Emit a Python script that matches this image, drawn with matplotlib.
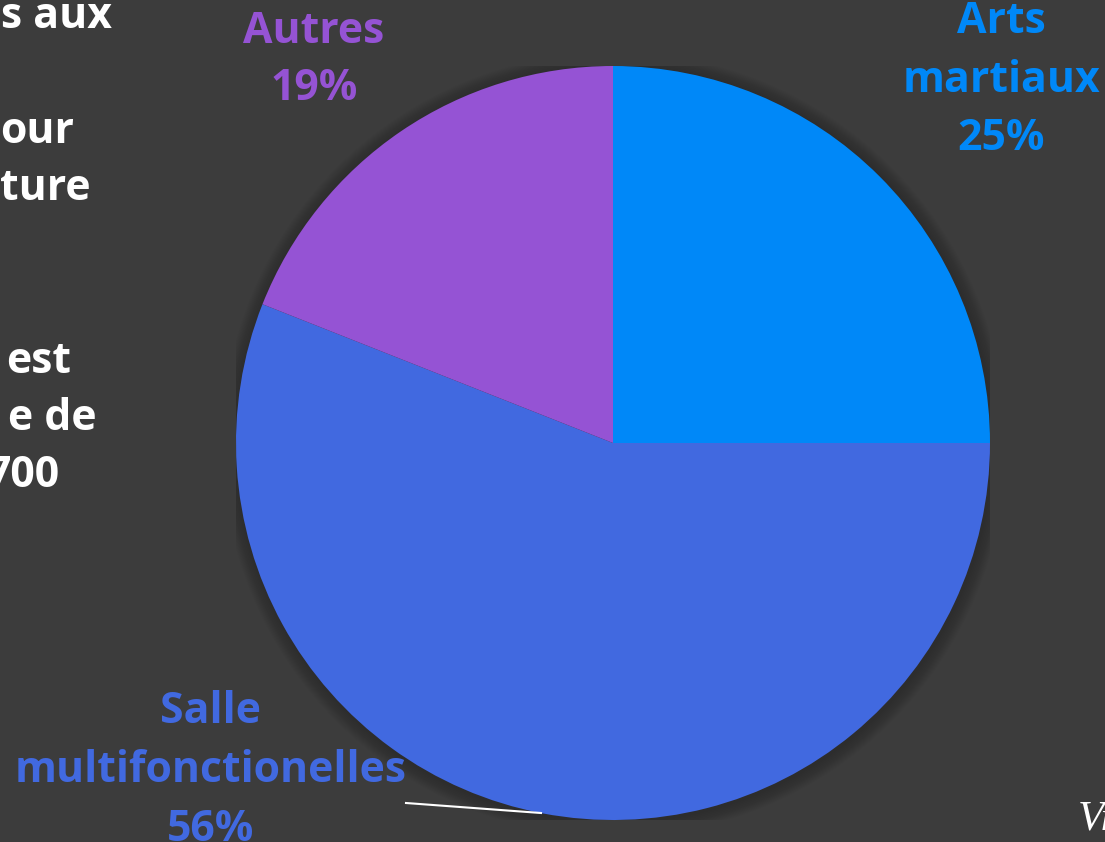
import matplotlib
matplotlib.use("Agg")
import matplotlib.pyplot as plt
from matplotlib.patches import Circle

# données du camembert
categories = ["Arts martiaux", "Salle multifonctionelles", "Autres"]
values = [25, 56, 19]
colors = ["#0088F8", "#4169E0", "#9553D4"]
label_lines = [["Arts", "martiaux", "25%"],
               ["Salle", "multifonctionelles", "56%"],
               ["Autres", "19%"]]

# fragments de texte coupés à gauche
side_text = ["s aux", "our", "ture", "est", "e de", "700"]

bg = "#3C3C3C"
W, H = 1105, 842

fig = plt.figure(figsize=(W / 100, H / 100), dpi=100, facecolor=bg)

# pie : centre (613, 443) px, rayon 377 px
cx, cy, r = 613, 443, 377
ax = fig.add_axes([(cx - r) / W, (H - cy - r) / H, 2 * r / W, 2 * r / H])
ax.set_facecolor(bg)

# ombre douce
for k in range(10):
    ax.add_patch(Circle((0.003, -0.004), 1.0 + 0.004 * (10 - k), color="black",
                        alpha=0.02, lw=0, zorder=0))

ax.pie(values, colors=colors, startangle=90, counterclock=False,
       wedgeprops=dict(linewidth=0), radius=1.0)
ax.set_xlim(-1, 1)
ax.set_ylim(-1, 1)
ax.set_aspect("equal")
ax.axis("off")

font = "Open Sans"
fs = 30.8


def px(x, y):
    return x / W, 1 - y / H


# étiquettes : (centre x, première ligne baseline, pas)
label_pos = [(1001, 33, 58.5), (211, 723, 59), (314, 43, 57)]
for lines, col, (x, y0, step) in zip(label_lines, colors, label_pos):
    for i, ln in enumerate(lines):
        fig.text(*px(x, y0 + i * step), ln, color=col, fontsize=fs, fontweight="bold",
                 family=font, ha="center", va="baseline")

# trait de rappel pour la grande part
fig.add_artist(plt.Line2D([406 / W, 541 / W], [1 - 803 / H, 1 - 813 / H],
                          color="white", lw=1.5, transform=fig.transFigure))

# texte de gauche (coupé)
side_right = [112, 74, 91, 71, 97, 60]
side_base = [28, 143, 200, 373, 430, 487]
for t, xr, yb in zip(side_text, side_right, side_base):
    fig.text(*px(xr, yb), t, color="white", fontsize=fs, fontweight="bold",
             family=font, ha="right", va="baseline")

fig.text(*px(1078, 830), "Vie", color="white", fontsize=31, style="italic",
         family="Liberation Serif", ha="left", va="baseline")

plt.savefig("out.png", dpi=100, facecolor=bg)
